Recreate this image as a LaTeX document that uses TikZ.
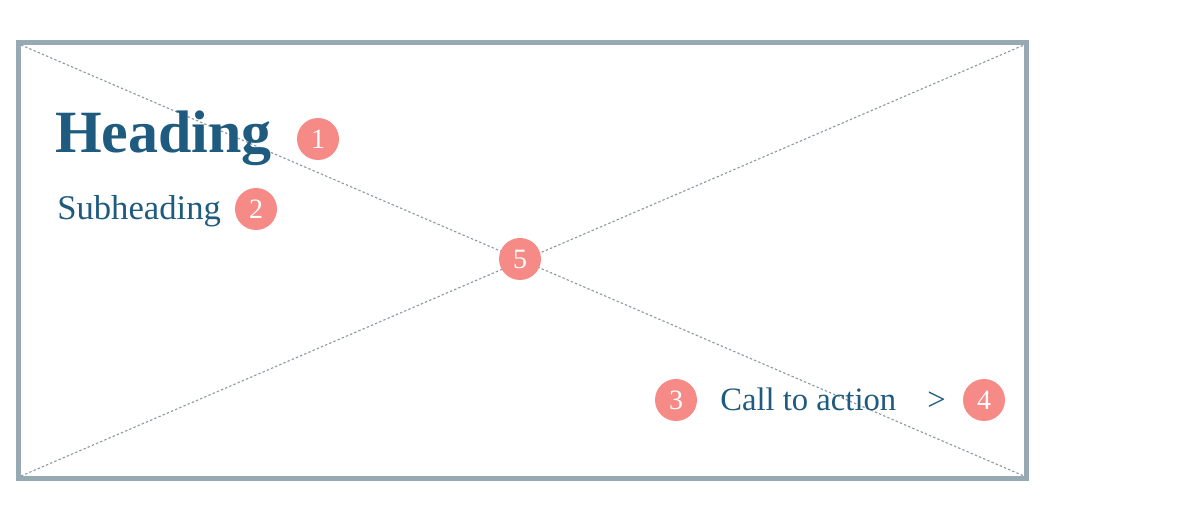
\documentclass[tikz,border=0pt]{standalone}
\usepackage{fontspec}
\setmainfont{Liberation Serif}
\definecolor{framec}{HTML}{97AAB4}
\definecolor{textc}{HTML}{1F5B7F}
\definecolor{badgec}{HTML}{F68A87}
\definecolor{diagc}{HTML}{8E9AA2}
\begin{document}
\begin{tikzpicture}[x=0.75pt,y=-0.75pt,
  badge/.style={circle,fill=badgec,minimum size=31.5pt,inner sep=0pt,text=white,font=\fontsize{21}{21}\selectfont},
  txt/.style={anchor=base west,text=textc,inner sep=0pt},
  diag/.style={draw=diagc,line width=0.85pt,dash pattern=on 1.8pt off 1.6pt}]
\useasboundingbox (0,0) rectangle (1200,509);
\draw[framec,line width=3.75pt] (18.5,42.5) rectangle (1026.5,478.5);
\coordinate (tl) at (21,45);
\coordinate (tr) at (1024,45);
\coordinate (bl) at (21,476);
\coordinate (br) at (1024,476);
\draw[diag] (tl) -- (br);
\draw[diag] (bl) -- (tr);
\node[txt,font=\fontsize{45}{45}\selectfont\bfseries] (heading) at (55,153) {Heading};
\node[txt,font=\fontsize{26}{26}\selectfont] (sub) at (57,220) {Subheading};
\node[txt,font=\fontsize{24.5}{24.5}\selectfont] (cta) at (720,411) {Call to action};
\node[txt,font=\fontsize{24.5}{24.5}\selectfont] (gt) at (927,411) {>};
\node[badge] (b1) at (318,139) {1};
\node[badge] (b2) at (256,209) {2};
\node[badge] (b3) at (676,400) {3};
\node[badge] (b4) at (984,400) {4};
\node[badge] (b5) at (520,259) {5};
\end{tikzpicture}
\end{document}
